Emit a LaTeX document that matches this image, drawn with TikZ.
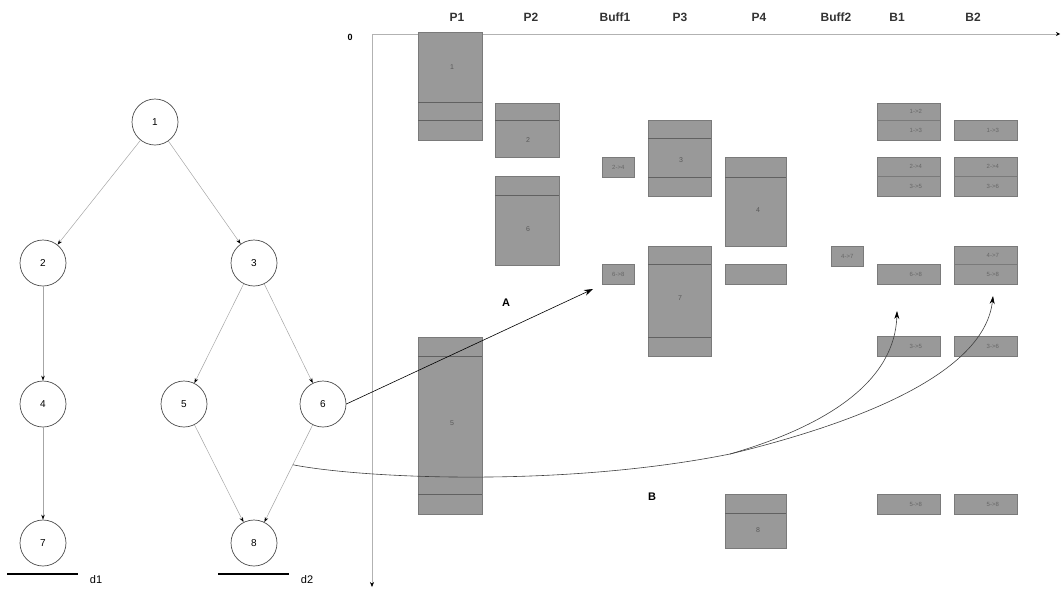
\documentclass[tikz,border=0pt]{standalone}
\usepackage{fontspec}
\setmainfont{Liberation Sans}
\usetikzlibrary{arrows.meta}
\begin{document}
\begin{tikzpicture}[x=1pt,y=-1pt,
  tnode/.style={circle,draw=black!70,line width=0.7pt,minimum size=46pt,inner sep=0pt,font=\fontsize{10}{12}\selectfont},
  tedge/.style={draw=black!35,line width=0.5pt,-{Stealth[black,length=5pt,width=3.5pt]}},
  gbox/.style={rectangle,anchor=north west,fill=black!40,draw=black!52,line width=0.5pt,inner sep=0pt},
  glab/.style={font=\fontsize{7}{8}\selectfont,text=black!65},
  mlab/.style={gbox,font=\fontsize{6}{7}\selectfont,text=black!60},
  sepline/.style={draw=black!62,line width=0.8pt},
  hdr/.style={font=\bfseries\fontsize{12}{14}\selectfont,text=black!80},
  axis/.style={draw=black!30,line width=0.6pt},
  deadline/.style={draw=black,line width=1.8pt},
  bigarrow/.style={draw=black!75,line width=0.6pt,-{Stealth[black,length=8pt,width=5pt]}}]
\useasboundingbox (0,0) rectangle (1062,590);

% ---------------- task graph ----------------
\node[tnode] (n1) at (155,122) {1};
\node[tnode] (n2) at (43,263) {2};
\node[tnode] (n3) at (254,263) {3};
\node[tnode] (n4) at (43,404) {4};
\node[tnode] (n5) at (184,404) {5};
\node[tnode] (n6) at (323,404) {6};
\node[tnode] (n7) at (43,543) {7};
\node[tnode] (n8) at (254,543) {8};
\draw[tedge] (n1) -- (n2);
\draw[tedge] (n1) -- (n3);
\draw[tedge] (n2) -- (n4);
\draw[tedge] (n3) -- (n5);
\draw[tedge] (n3) -- (n6);
\draw[tedge] (n4) -- (n7);
\draw[tedge] (n5) -- (n8);
\draw[tedge] (n6) -- (n8);
\draw[deadline] (7,574) -- (78,574);
\node[font=\fontsize{11}{13}\selectfont] (d1) at (96,580) {d1};
\draw[deadline] (218,574) -- (289,574);
\node[font=\fontsize{11}{13}\selectfont] (d2) at (307,580) {d2};

% ---------------- axes ----------------
\coordinate (org) at (372,34);
\coordinate (xend) at (1060,34);
\coordinate (yend) at (372,587);
\draw[axis,-{Stealth[black,length=4pt,width=4pt]}] (org) -- (xend);
\draw[axis,-{Stealth[black,length=5pt,width=4pt]}] (org) -- (yend);
\node[font=\bfseries\fontsize{9}{10}\selectfont] (zero) at (350,37) {0};

% ---------------- headers ----------------
\node[hdr] (hP1) at (457,17) {P1};
\node[hdr] (hP2) at (531,17) {P2};
\node[hdr] (hBf1) at (615,17) {Buff1};
\node[hdr] (hP3) at (680,17) {P3};
\node[hdr] (hP4) at (759,17) {P4};
\node[hdr] (hBf2) at (836,17) {Buff2};
\node[hdr] (hB1) at (897,17) {B1};
\node[hdr] (hB2) at (973,17) {B2};

% ---------------- processor boxes ----------------
% P1
\node[gbox,minimum width=64pt,minimum height=108pt] (p1a) at (418,32) {};
\draw[sepline] (418,102) -- (482,102); \draw[sepline] (418,120) -- (482,120);
\node[glab] (l1) at (452,67) {1};
\node[gbox,minimum width=64pt,minimum height=177pt] (p1b) at (418,337) {};
\draw[sepline] (418,356) -- (482,356); \draw[sepline] (418,494) -- (482,494);
\node[glab] (l5) at (452,423) {5};
% P2
\node[gbox,minimum width=64pt,minimum height=54pt] (p2a) at (495,103) {};
\draw[sepline] (495,120) -- (559,120);
\node[glab] (l2) at (528,140) {2};
\node[gbox,minimum width=64pt,minimum height=89pt] (p2b) at (495,176) {};
\draw[sepline] (495,195) -- (559,195);
\node[glab] (l6) at (528,229) {6};
% P3
\node[gbox,minimum width=63pt,minimum height=76pt] (p3a) at (648,120) {};
\draw[sepline] (648,138) -- (711,138); \draw[sepline] (648,177) -- (711,177);
\node[glab] (l3) at (681,160) {3};
\node[gbox,minimum width=63pt,minimum height=110pt] (p3b) at (648,246) {};
\draw[sepline] (648,264) -- (711,264); \draw[sepline] (648,337) -- (711,337);
\node[glab] (l7) at (680,298) {7};
% P4
\node[gbox,minimum width=61pt,minimum height=89pt] (p4a) at (725,157) {};
\draw[sepline] (725,177) -- (786,177);
\node[glab] (l4) at (758,210) {4};
\node[gbox,minimum width=61pt,minimum height=20pt] (p4b) at (725,264) {};
\node[gbox,minimum width=61pt,minimum height=54pt] (p4c) at (725,494) {};
\draw[sepline] (725,513) -- (786,513);
\node[glab] (l8) at (758,530) {8};

% ---------------- buffers ----------------
\node[mlab,minimum width=32pt,minimum height=20pt] (bf1a) at (602,157) {2->4};
\node[mlab,minimum width=32pt,minimum height=20pt] (bf1b) at (602,264) {6->8};
\node[mlab,minimum width=32pt,minimum height=20pt] (bf2a) at (831,246) {4->7};

% ---------------- buses ----------------
\node[mlab,minimum width=63pt,minimum height=17pt] (b1a) at (877,103) {\hspace{14pt}1->2};
\node[mlab,minimum width=63pt,minimum height=20pt] (b1b) at (877,120) {\hspace{14pt}1->3};
\node[mlab,minimum width=63pt,minimum height=19pt] (b1c) at (877,157) {\hspace{14pt}2->4};
\node[mlab,minimum width=63pt,minimum height=20pt] (b1d) at (877,176) {\hspace{14pt}3->5};
\node[mlab,minimum width=63pt,minimum height=20pt] (b1e) at (877,264) {\hspace{14pt}6->8};
\node[mlab,minimum width=63pt,minimum height=20pt] (b1f) at (877,336) {\hspace{14pt}3->5};
\node[mlab,minimum width=63pt,minimum height=20pt] (b1g) at (877,494) {\hspace{14pt}5->8};

\node[mlab,minimum width=63pt,minimum height=20pt] (b2a) at (954,120) {\hspace{14pt}1->3};
\node[mlab,minimum width=63pt,minimum height=19pt] (b2b) at (954,157) {\hspace{14pt}2->4};
\node[mlab,minimum width=63pt,minimum height=20pt] (b2c) at (954,176) {\hspace{14pt}3->6};
\node[mlab,minimum width=63pt,minimum height=18pt] (b2d) at (954,246) {\hspace{14pt}4->7};
\node[mlab,minimum width=63pt,minimum height=20pt] (b2e) at (954,264) {\hspace{14pt}5->8};
\node[mlab,minimum width=63pt,minimum height=20pt] (b2f) at (954,336) {\hspace{14pt}3->6};
\node[mlab,minimum width=63pt,minimum height=20pt] (b2g) at (954,494) {\hspace{14pt}5->8};

% ---------------- arrows A and B ----------------
\coordinate (aend) at (593,289);
\draw[draw=black,line width=0.6pt,-{Stealth[black,length=9pt,width=6pt]}] (n6.east) -- (aend);
\node[font=\bfseries\fontsize{11}{12}\selectfont] (labA) at (506,303) {A};

\path (n6) -- (n8) coordinate[pos=0.41] (bs);
\coordinate (bsplit) at (730,454);
\coordinate (bend1) at (897,311);
\coordinate (bend2) at (993,296);
\draw[draw=black!75,line width=0.6pt] (bs) .. controls (360,478) and (560,488) .. (bsplit);
\draw[bigarrow] (bsplit) .. controls (830,425) and (895,380) .. (bend1);
\draw[bigarrow] (bsplit) .. controls (870,420) and (985,370) .. (bend2);
\node[font=\bfseries\fontsize{11}{12}\selectfont] (labB) at (652,497) {B};
\end{tikzpicture}
\end{document}
